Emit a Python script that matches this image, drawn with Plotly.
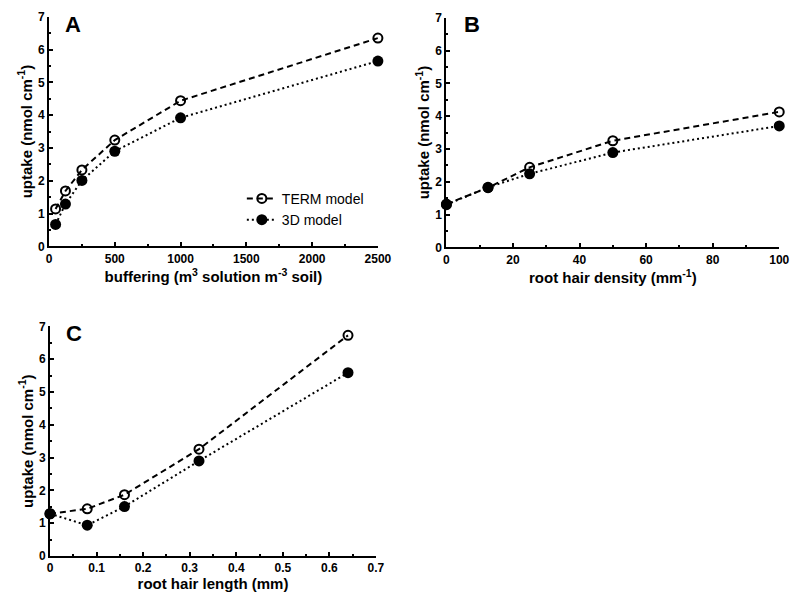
import plotly.graph_objects as go

# Panel A: buffering
buff_x = [50, 125, 250, 500, 1000, 2500]
buff_term = [1.14, 1.69, 2.33, 3.24, 4.44, 6.35]
buff_3d = [0.67, 1.29, 2.01, 2.90, 3.92, 5.65]

# Panel B: root hair density
dens_x = [0, 12.5, 25, 50, 100]
dens_term = [1.32, 1.82, 2.44, 3.25, 4.13]
dens_3d = [1.30, 1.83, 2.24, 2.89, 3.70]

# Panel C: root hair length
len_x = [0, 0.08, 0.16, 0.32, 0.64]
len_term = [1.29, 1.44, 1.87, 3.26, 6.73]
len_3d = [1.29, 0.94, 1.51, 2.90, 5.59]

FONT = "Liberation Sans, Arial, Helvetica, sans-serif"
W, H = 804, 608

def px_x(a, b):
    return [a / W, b / W]

def px_y(top, bottom):
    return [1 - bottom / H, 1 - top / H]

fig = go.Figure()

def add_pair(x, term, d3, xa, ya, show):
    fig.add_trace(go.Scatter(
        x=x, y=term, mode="lines+markers", name="TERM model",
        xaxis=xa, yaxis=ya, showlegend=show, legendrank=1,
        line=dict(color="black", width=2, dash="6px,4px"),
        marker=dict(symbol="circle-open", size=9, color="black", line=dict(width=2, color="black")),
        cliponaxis=False))
    fig.add_trace(go.Scatter(
        x=x, y=d3, mode="lines+markers", name="3D model",
        xaxis=xa, yaxis=ya, showlegend=show, legendrank=2,
        line=dict(color="black", width=2, dash="2px,3px"),
        marker=dict(symbol="circle", size=11, color="black"),
        cliponaxis=False))

add_pair(buff_x, buff_term, buff_3d, "x", "y", True)
add_pair(dens_x, dens_term, dens_3d, "x2", "y2", False)
add_pair(len_x, len_term, len_3d, "x3", "y3", False)

ytitle = "uptake (nmol cm<sup>-1</sup>)"
TITLE_FONT = dict(family=FONT, size=15, color="black", weight="bold")
TICK_FONT = dict(family=FONT, size=12, color="black", weight="bold")

def xaxis(domain, rng, dtick, minor, title, anchor):
    return dict(domain=domain, range=rng, dtick=dtick, tick0=0, anchor=anchor,
                showline=True, linecolor="black", linewidth=2, showgrid=False, zeroline=False,
                ticks="inside", ticklen=4, tickwidth=1.5, tickcolor="black",
                minor=dict(dtick=minor, ticks="inside", ticklen=2, tickcolor="black", showgrid=False),
                tickfont=TICK_FONT,
                title=dict(text=title, font=TITLE_FONT, standoff=2))

def yaxis(domain, anchor):
    return dict(domain=domain, range=[0, 7], dtick=1, tick0=0, anchor=anchor,
                showline=True, linecolor="black", linewidth=2, showgrid=False, zeroline=False,
                ticks="inside", ticklen=4, tickwidth=1.5, tickcolor="black",
                minor=dict(dtick=0.5, ticks="inside", ticklen=2, tickcolor="black", showgrid=False),
                tickfont=TICK_FONT,
                title=dict(text=ytitle, font=TITLE_FONT, standoff=2))

fig.update_layout(
    width=W, height=H,
    margin=dict(l=0, r=0, t=0, b=0),
    paper_bgcolor="white", plot_bgcolor="white",
    font=dict(family=FONT, color="black"),
    xaxis=xaxis(px_x(47, 383), [0, 2500], 500, 250,
                "buffering (m<sup>3</sup> solution m<sup>-3</sup> soil)", "y"),
    yaxis=yaxis(px_y(10, 245), "x"),
    xaxis2=xaxis(px_x(453, 793), [0, 100], 20, 10, "root hair density (mm<sup>-1</sup>)", "y2"),
    yaxis2=yaxis(px_y(11, 246), "x2"),
    xaxis3=xaxis(px_x(48, 381), [0, 0.7], 0.1, 0.05, "root hair length (mm)", "y3"),
    yaxis3=yaxis(px_y(327, 562), "x3"),
    legend=dict(x=244 / W, y=1 - 180 / H, xanchor="left", yanchor="top",
                bgcolor="rgba(0,0,0,0)", font=dict(family=FONT, size=14, color="black"),
                itemwidth=30, tracegroupgap=2),
    showlegend=True,
)

for txt, x, y in [("A", 61, 18), ("B", 469, 18), ("C", 62, 334)]:
    fig.add_annotation(text="<b>" + txt + "</b>", x=x / W, y=1 - y / H, xref="paper", yref="paper",
                       xanchor="left", yanchor="middle", showarrow=False,
                       font=dict(family=FONT, size=22, color="black"))

fig.write_html("out.html")
